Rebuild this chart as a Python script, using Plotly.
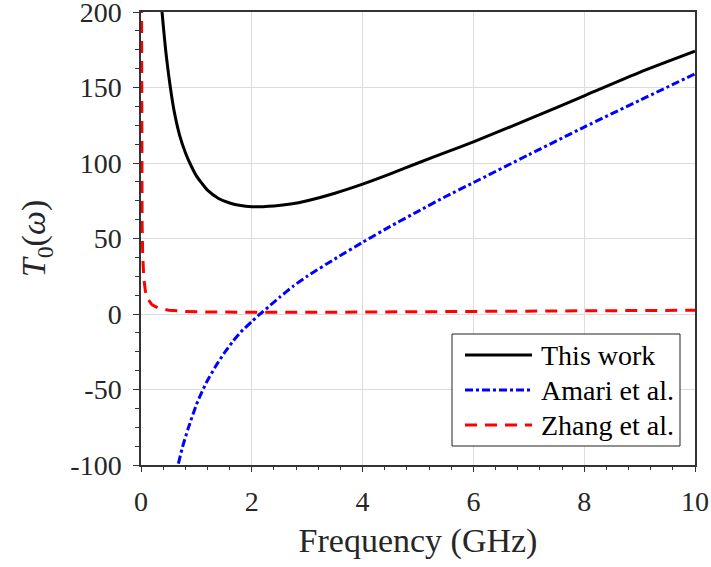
import plotly.graph_objects as go

# This work
f_this = [0.35, 0.38, 0.42, 0.45, 0.5, 0.55, 0.6, 0.7, 0.8, 0.9, 1.0, 1.1, 1.2, 1.4, 1.6, 1.8, 2.0, 2.2, 2.4, 2.7, 3.0, 3.5, 4.0, 4.5, 5.0, 5.5, 6.0, 7.0, 8.0, 9.0, 10.0]
t_this = [216, 200, 184, 173, 158, 145, 134, 118, 107, 98.5, 91.5, 86.5, 82, 76.5, 73.5, 71.8, 71.1, 71.1, 71.5, 72.8, 75, 80, 86, 92.8, 100, 107, 114, 129, 144.5, 160, 174]

# Amari et al.
f_amari = [0.62, 0.67, 0.75, 0.85, 1.0, 1.1, 1.2, 1.35, 1.5, 1.65, 1.8, 2.0, 2.15, 2.3, 2.5, 2.75, 3.0, 3.5, 4.0, 4.5, 5.0, 5.5, 6.0, 7.0, 8.0, 9.0, 10.0]
t_amari = [-110, -100, -88, -76, -60, -51.5, -44, -34.5, -26, -18.5, -12, -5, 0, 4.7, 11, 18.5, 25, 36.5, 47.5, 58, 68, 77.8, 87, 105.5, 123.8, 141.5, 159]

# Zhang et al.
f_zhang = [0.004, 0.006, 0.008, 0.012, 0.02, 0.03, 0.05, 0.08, 0.12, 0.2, 0.3, 0.5, 0.8, 1.2, 2.0, 3.0, 4.0, 6.0, 8.0, 10.0]
t_zhang = [300, 200, 150, 100, 60, 40, 24, 15, 10, 6, 4.2, 2.5, 1.7, 1.3, 1.1, 1.1, 1.3, 1.6, 2.0, 2.5]

x_ticks = [0, 2, 4, 6, 8, 10]
y_ticks = [-100, -50, 0, 50, 100, 150, 200]
y_tick_text = ["-100", "-50", "0", "50", "100", "150", "200"]

names = ["This work", "Amari et al.", "Zhang et al."]
colors = ["black", "blue", "red"]
dashes = ["solid", "8px,3px,3px,3px", "12px,8px"]

FONT = "Liberation Serif, Times New Roman, serif"

fig = go.Figure()
series = [(f_this, t_this), (f_amari, t_amari), (f_zhang, t_zhang)]
for i, (fx, ty) in enumerate(series):
    ln = dict(color=colors[i], width=3, dash=dashes[i])
    if i < 2:
        ln.update(shape="spline", smoothing=0.5)
    fig.add_trace(go.Scatter(x=fx, y=ty, mode="lines", name=names[i], line=ln, showlegend=False))

axis_common = dict(
    showline=True, linecolor="#333333", linewidth=1.5, mirror=True,
    showgrid=True, gridcolor="#dcdcdc", gridwidth=1,
    ticks="outside", tickcolor="#333333", tickwidth=1.2,
    tickfont=dict(family=FONT, size=28, color="#262626"),
    zeroline=False, automargin=False, ticklabeloverflow="allow",
)

fig.update_xaxes(range=[0, 10], tickvals=x_ticks, ticktext=[str(v) for v in x_ticks], ticklen=5,
                 minor=dict(dtick=0.4, ticks="outside", ticklen=3, tickcolor="#333333", showgrid=False),
                 title=dict(text="Frequency (GHz)", font=dict(family=FONT, size=34, color="#262626"), standoff=12),
                 ticklabelstandoff=6,
                 **axis_common)
fig.update_yaxes(range=[-100, 200], tickvals=y_ticks, ticktext=y_tick_text, ticklen=6,
                 minor=dict(dtick=12.5, ticks="outside", ticklen=4, tickcolor="#333333", showgrid=False),
                 title=dict(text="<i>T</i><sub>0</sub>(<i>ω</i>)", font=dict(family=FONT, size=34, color="#262626"), standoff=14),
                 ticklabelstandoff=6,
                 **axis_common)

# custom legend (paper coords)
L, R, T, B = 141, 695, 12, 465
def px(xp):
    return (xp - L) / (R - L)
def py(yp):
    return (B - yp) / (B - T)

fig.add_shape(type="rect", xref="paper", yref="paper",
              x0=px(452), x1=px(680), y0=py(446), y1=py(334),
              line=dict(color="#222222", width=1), fillcolor="white", layer="above")
row_y = [355, 390, 425]
for i in range(3):
    fig.add_shape(type="line", xref="paper", yref="paper",
                  x0=px(465), x1=px(532), y0=py(row_y[i]), y1=py(row_y[i]),
                  line=dict(color=colors[i], width=3, dash=dashes[i]), layer="above")
    fig.add_annotation(xref="paper", yref="paper", x=px(539), y=py(row_y[i]),
                       text=names[i], showarrow=False, xanchor="left", yanchor="middle",
                       font=dict(family=FONT, size=28, color="black"))

fig.update_layout(
    width=711, height=567,
    margin=dict(l=L, r=711 - R, t=T, b=567 - B),
    plot_bgcolor="white", paper_bgcolor="white",
    showlegend=False,
)

fig.write_html("out.html")
